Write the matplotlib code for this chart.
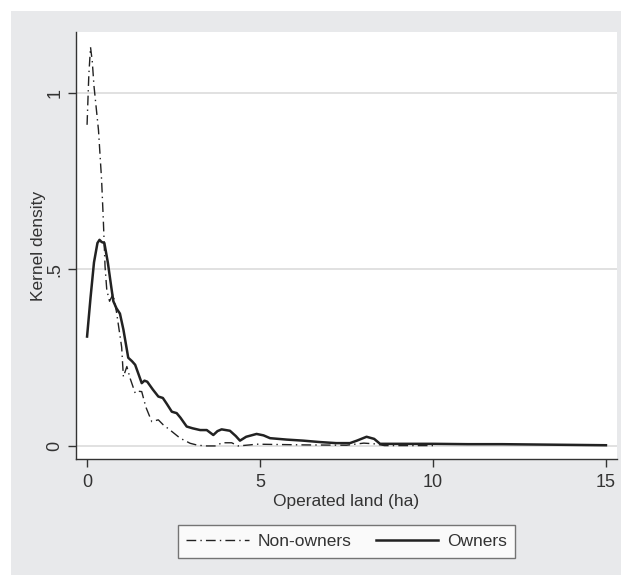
import matplotlib.pyplot as plt
from matplotlib.patches import Rectangle

# Kernel density estimates
OWN_X = [0.0, 0.1, 0.2, 0.3, 0.36, 0.42, 0.5, 0.6, 0.7, 0.76, 0.85, 0.95, 1.05,
         1.19, 1.3, 1.39, 1.5, 1.58, 1.66, 1.74, 1.9, 2.06, 2.19, 2.3, 2.45,
         2.59, 2.7, 2.88, 3.05, 3.27, 3.46, 3.65, 3.77, 3.89, 4.13, 4.3, 4.42,
         4.6, 4.9, 5.1, 5.29, 5.77, 6.25, 6.73, 7.2, 7.6, 7.8, 8.08, 8.3, 8.47,
         9.0, 10.0, 11.0, 12.0, 13.0, 14.0, 15.0]
OWN_Y = [0.31, 0.42, 0.52, 0.575, 0.584, 0.578, 0.575, 0.52, 0.45, 0.41, 0.39,
         0.375, 0.33, 0.25, 0.24, 0.23, 0.20, 0.178, 0.185, 0.182, 0.16, 0.14,
         0.136, 0.12, 0.097, 0.093, 0.08, 0.055, 0.05, 0.045, 0.045, 0.031,
         0.042, 0.047, 0.043, 0.028, 0.015, 0.026, 0.034, 0.03, 0.022, 0.018,
         0.015, 0.011, 0.008, 0.008, 0.015, 0.026, 0.02, 0.006, 0.006, 0.006,
         0.005, 0.005, 0.004, 0.003, 0.002]

NON_X = [0.0, 0.05, 0.1, 0.15, 0.2, 0.33, 0.42, 0.47, 0.52, 0.57, 0.65, 0.75,
         0.85, 1.0, 1.05, 1.15, 1.25, 1.39, 1.48, 1.58, 1.7, 1.87, 2.06, 2.2,
         2.4, 2.69, 2.98, 3.2, 3.46, 3.74, 3.89, 4.18, 4.37, 4.71, 4.9, 6.25,
         7.5, 8.0, 8.3, 8.6, 10.0]
NON_Y = [0.91, 1.05, 1.13, 1.09, 1.02, 0.895, 0.754, 0.64, 0.508, 0.442, 0.41,
         0.43, 0.38, 0.28, 0.196, 0.225, 0.19, 0.15, 0.155, 0.154, 0.11, 0.069,
         0.074, 0.06, 0.045, 0.022, 0.0075, 0.002, 0.0, 0.0, 0.009, 0.009, 0.0,
         0.003, 0.005, 0.003, 0.002, 0.008, 0.006, 0.001, 0.001]

X_TICKS = [0, 5, 10, 15]
Y_TICKS = [0, 0.5, 1]
Y_TICKLABELS = ["0", ".5", "1"]

BG = "#e8e9eb"
INK = "#333333"

plt.rcParams["font.family"] = ["Liberation Sans Narrow", "Liberation Sans", "DejaVu Sans"]


def main():
    fig = plt.figure(figsize=(6.21, 5.75), dpi=100, facecolor="white")
    fig.patches.append(Rectangle((11 / 621, 0), 1, 564 / 575, transform=fig.transFigure,
                                 facecolor=BG, edgecolor="none", zorder=-10))

    ax = fig.add_axes([76 / 621, 116 / 575, 541 / 621, 427 / 575])
    ax.set_zorder(1)
    ax.set_facecolor("white")

    ax.plot(NON_X, NON_Y, color="#222222", lw=1.0, dashes=(7, 3, 1, 3),
            label="Non-owners")
    ax.plot(OWN_X, OWN_Y, color="#222222", lw=1.8, label="Owners")

    ax.set_xlim(-0.32, 15.32)
    ax.set_ylim(-0.037, 1.173)
    for v in Y_TICKS:
        ax.axhline(v, color="#dcdcdc", lw=1.2, zorder=0)

    for side in ("top", "right"):
        ax.spines[side].set_visible(False)
    for side in ("left", "bottom"):
        ax.spines[side].set_color(INK)
        ax.spines[side].set_linewidth(1.0)

    ax.set_xticks(X_TICKS)
    ax.set_yticks(Y_TICKS)
    ax.set_yticklabels(Y_TICKLABELS, rotation=90, va="center")
    ax.tick_params(colors=INK, labelsize=13, length=6, width=1.0)
    ax.tick_params(axis="y", pad=3)
    ax.tick_params(axis="x", pad=5)

    ax.set_xlabel("Operated land (ha)", fontsize=12.5, color=INK, labelpad=2)
    ax.set_ylabel("Kernel density", fontsize=12.5, color=INK, labelpad=0)

    leg = fig.legend(loc="center", bbox_to_anchor=(346.5 / 621, 1 - 541.5 / 575),
                     ncol=2, fontsize=12.5, frameon=True, fancybox=False,
                     edgecolor="#555555", handlelength=3.6, columnspacing=1.4,
                     handletextpad=0.5, borderpad=0.5, borderaxespad=0)
    leg.get_frame().set_linewidth(1.0)
    for t in leg.get_texts():
        t.set_color(INK)

    fig.savefig("out.png", dpi=100, facecolor="white")


if __name__ == "__main__":
    main()
